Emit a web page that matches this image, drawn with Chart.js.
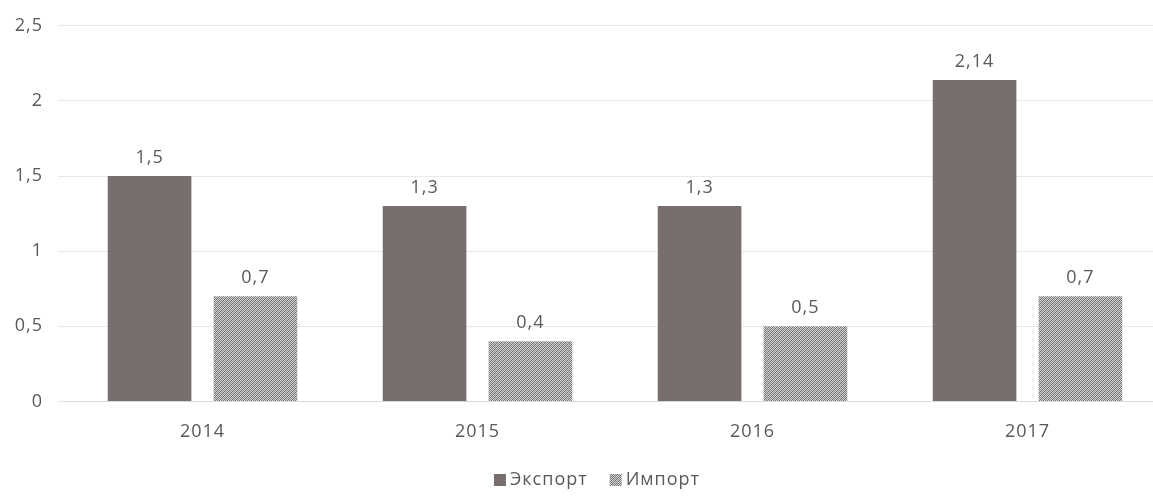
<!DOCTYPE html>
<html><head><meta charset="utf-8">
<script src="https://cdn.jsdelivr.net/npm/chart.js@4/dist/chart.umd.min.js"></script>
<style>html,body{margin:0;padding:0;background:#fff;overflow:hidden}#wrap{width:1170px;height:497px}</style>
</head><body><div id="wrap"><canvas id="c"></canvas></div>
<script>
const categories = ['2014', '2015', '2016', '2017'];
const exportValues = [1.5, 1.3, 1.3, 2.14];
const importValues = [0.7, 0.4, 0.5, 0.7];
const seriesNames = ['Экспорт', 'Импорт'];
const yTicks = [0, 0.5, 1, 1.5, 2, 2.5];

const fmt = v => String(v).replace('.', ',');
const FONT = '"Open Sans", sans-serif';
const TEXT = '#595959';

function makePattern() {
  const p = document.createElement('canvas');
  p.width = 4; p.height = 4;
  const g = p.getContext('2d');
  g.fillStyle = '#d0d0d0';
  g.fillRect(0, 0, 4, 4);
  g.fillStyle = '#6e6e6e';
  for (let i = 0; i < 4; i++) { g.fillRect(i, 3 - i, 1, 1); }
  g.fillStyle = '#8a8a8a';
  for (let i = 0; i < 4; i++) { g.fillRect(i, (5 - i) % 4, 1, 1); }
  return g.createPattern(p, 'repeat');
}
const hatch = makePattern();

const spacingPlugin = {
  id: 'spacing',
  beforeDraw(chart) { chart.ctx.letterSpacing = '1px'; }
};

const labelPlugin = {
  id: 'valLabels',
  afterDatasetsDraw(chart) {
    const ctx = chart.ctx;
    ctx.save();
    ctx.font = '18px ' + FONT;
    ctx.fillStyle = TEXT;
    ctx.textAlign = 'center';
    ctx.textBaseline = 'bottom';
    chart.data.datasets.forEach((ds, di) => {
      chart.getDatasetMeta(di).data.forEach((bar, i) => {
        ctx.fillText(fmt(ds.data[i]), bar.x, bar.y - 9);
      });
    });
    ctx.restore();
  }
};

const legendPlugin = {
  id: 'customLegend',
  afterDraw(chart) {
    const ctx = chart.ctx;
    ctx.save();
    ctx.font = '18px ' + FONT;
    ctx.textBaseline = 'middle';
    ctx.textAlign = 'left';
    const box = 12, gap = 4, itemGap = 22, cy = 480, cx = 597;
    const items = chart.data.datasets.map(ds => ({ label: ds.label, color: ds.backgroundColor, w: box + gap + ctx.measureText(ds.label).width }));
    const total = items.reduce((s, it) => s + it.w, 0) + itemGap * (items.length - 1);
    let x = cx - total / 2;
    items.forEach(it => {
      ctx.fillStyle = it.color;
      ctx.fillRect(x, cy - box / 2, box, box);
      ctx.fillStyle = TEXT;
      ctx.fillText(it.label, x + box + gap, cy);
      x += it.w + itemGap;
    });
    ctx.restore();
  }
};

new Chart(document.getElementById('c'), {
  type: 'bar',
  data: {
    labels: categories,
    datasets: [
      { label: seriesNames[0], data: exportValues, backgroundColor: '#786e6e', categoryPercentage: 0.77, barPercentage: 0.79 },
      { label: seriesNames[1], data: importValues, backgroundColor: hatch, categoryPercentage: 0.77, barPercentage: 0.79 }
    ]
  },
  options: {
    responsive: true,
    maintainAspectRatio: false,
    animation: false,
    layout: { padding: { top: 9, right: 5, left: 0, bottom: 34 } },
    plugins: {
      tooltip: { enabled: false },
      legend: { display: false }
    },
    scales: {
      x: {
        grid: { display: false, drawTicks: false },
        border: { display: true, color: '#d9d9d9' },
        ticks: { color: TEXT, padding: 20, font: { family: FONT, size: 18 } }
      },
      y: {
        min: 0, max: 2.5,
        afterFit(s) { s.width = 65; },
        afterBuildTicks(s) { s.ticks = yTicks.map(v => ({ value: v })); },
        border: { display: false },
        grid: { color: '#e8e8e8', tickLength: 7, tickColor: '#e8e8e8' },
        ticks: { color: TEXT, padding: 15, font: { family: FONT, size: 18 }, callback: v => fmt(v) }
      }
    }
  },
  plugins: [spacingPlugin, labelPlugin, legendPlugin]
});
</script></body></html>
